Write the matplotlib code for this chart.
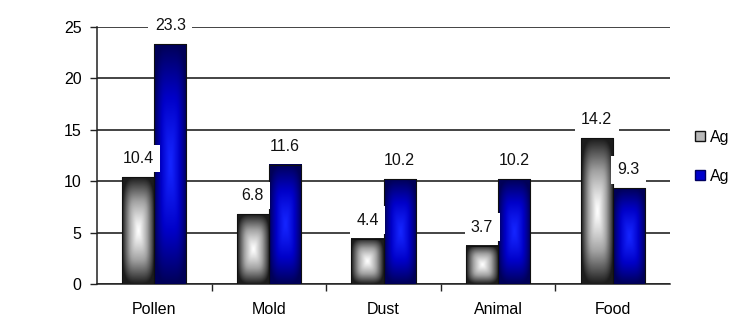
import numpy as np
import matplotlib
matplotlib.use("Agg")
import matplotlib.pyplot as plt
from matplotlib.patches import Patch, Rectangle
from matplotlib.colors import LinearSegmentedColormap

plt.rcParams["font.family"] = ["Liberation Sans", "DejaVu Sans"]

categories = ["Pollen", "Mold", "Dust", "Animal", "Food"]
series_names = ["Ag", "Ag"]
group_a = [10.4, 6.8, 4.4, 3.7, 14.2]
group_b = [23.3, 11.6, 10.2, 10.2, 9.3]
y_ticks = [0, 5, 10, 15, 20, 25]

BAR_W = 0.28
FS = 11.5
GRAY_CMAP = LinearSegmentedColormap.from_list("gray_fill", ["#ffffff", "#a0a0a0", "#1c1c1c"])
BLUE_CMAP = LinearSegmentedColormap.from_list("blue_fill", ["#1525ff", "#0000c8", "#000058"])


def gradient_bar(ax, x0, width, height, cmap):
    # rounded "from centre" fill: light middle, dark edges
    u = np.linspace(-1, 1, 60)
    v = np.linspace(-1, 1, 160)
    uu, vv = np.meshgrid(u, v)
    t = (np.abs(uu) ** 4 + np.abs(vv) ** 4) ** 0.25
    t = np.clip(t, 0, 1) ** 1.2
    ax.imshow(t, cmap=cmap, vmin=0, vmax=1, aspect="auto",
              extent=(x0, x0 + width, 0, height), origin="lower",
              interpolation="bilinear", zorder=3)
    ax.add_patch(Rectangle((x0, 0), width, height, fill=False,
                           edgecolor="#101010", linewidth=0.8, zorder=4))


fig = plt.figure(figsize=(7.39, 3.27), dpi=100)
ax = fig.add_axes([97 / 739, 43 / 327, 573 / 739, 257 / 327])

x = np.arange(len(categories))
for i in x:
    gradient_bar(ax, i - BAR_W, BAR_W, group_a[i], GRAY_CMAP)
    gradient_bar(ax, i, BAR_W, group_b[i], BLUE_CMAP)

label_box = dict(boxstyle="square,pad=0.4", facecolor="white", edgecolor="none")
for i in x:
    for xc, val in ((i - BAR_W / 2, group_a[i]), (i + BAR_W / 2, group_b[i])):
        ax.annotate(f"{val}", (xc, val), xytext=(0, 8), textcoords="offset points",
                    ha="center", va="bottom", fontsize=FS, color="#111111",
                    bbox=label_box, zorder=5, annotation_clip=False)

ax.set_xlim(-0.5, len(categories) - 0.5)
ax.set_ylim(0, 25)
ax.set_yticks(y_ticks)
ax.set_xticks(x)
ax.set_xticklabels(categories, fontsize=FS)
ax.set_xticks(np.arange(0.5, len(categories) - 0.5, 1), minor=True)
ax.tick_params(axis="x", which="major", length=0, pad=13)
ax.tick_params(axis="x", which="minor", length=5, width=1, color="#222222", direction="out")
ax.tick_params(axis="y", length=5, width=1, color="#222222", labelsize=FS, pad=6)

ax.yaxis.grid(True, color="#111111", linewidth=1.1, zorder=0)
ax.set_axisbelow(True)
for side in ("top", "right"):
    ax.spines[side].set_visible(False)
for side in ("left", "bottom"):
    ax.spines[side].set_color("#222222")
    ax.spines[side].set_linewidth(1.1)

handles = [Patch(facecolor="#b8b8b8", edgecolor="#111111", linewidth=1),
           Patch(facecolor="#0000cc", edgecolor="#000060", linewidth=1)]
fig.legend(handles, series_names, loc="center left",
           bbox_to_anchor=(695 / 739, 1 - 157 / 327), frameon=False,
           fontsize=FS, handlelength=0.6, handleheight=0.6,
           handletextpad=0.35, labelspacing=1.5, borderpad=0, borderaxespad=0)

fig.savefig("out.png", dpi=100)
